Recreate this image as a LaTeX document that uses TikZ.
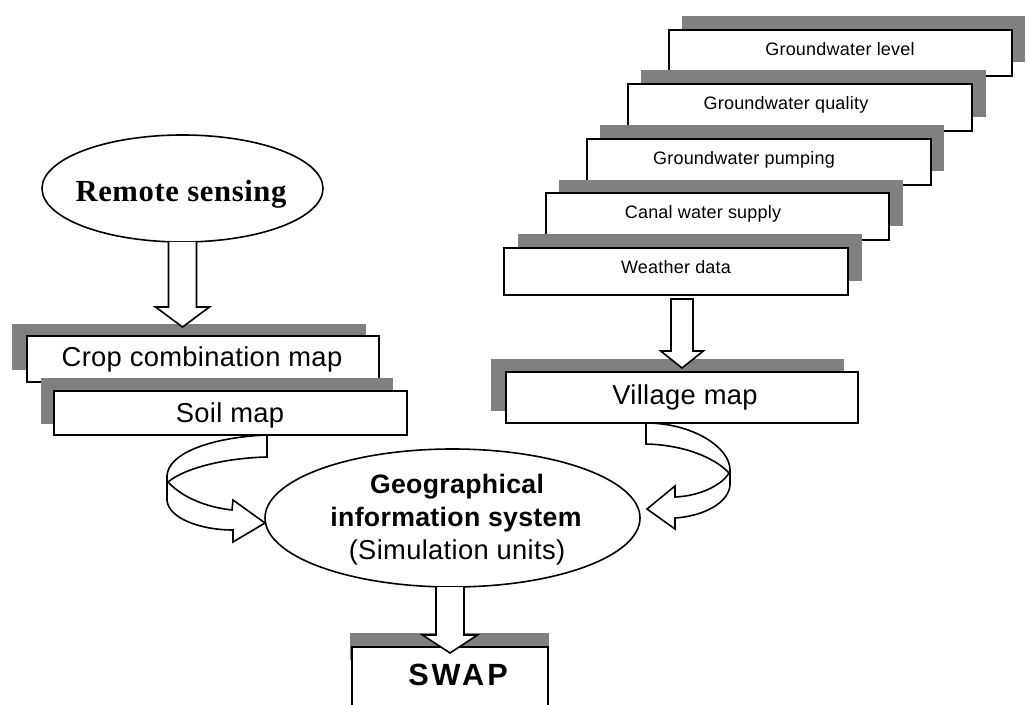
\documentclass[tikz,border=0pt]{standalone}
\usepackage{fontspec}
\setmainfont{Liberation Sans}
\newfontfamily\labelfont[LetterSpace=1.2]{Liberation Sans}
\newfontfamily\swapfont[LetterSpace=10]{Liberation Sans}
\newfontfamily\titlefont[LetterSpace=2]{Liberation Serif}
\usetikzlibrary{shapes.geometric,fit,calc}
\definecolor{shadowgray}{RGB}{128,128,128}

\begin{document}
\begin{tikzpicture}[x=0.75pt,y=-0.75pt,
  shadowbox/.style={rectangle,fill=shadowgray,draw=none,inner sep=0pt,outer sep=0pt},
  panel/.style={rectangle,fill=white,draw=black,line width=1.4pt,inner sep=0pt,outer sep=0pt},
  smalltext/.style={anchor=base,inner sep=0pt,font=\labelfont\fontsize{13.5}{16}\selectfont},
  bigtext/.style={anchor=base,inner sep=0pt,font=\labelfont\fontsize{20.5}{24}\selectfont},
  gistext/.style={anchor=base,inner sep=0pt,font=\labelfont\bfseries\fontsize{20}{24}\selectfont},
  oval/.style={ellipse,draw=black,fill=white,line width=1.2pt,inner sep=0pt,outer sep=0pt},
  blockarrow/.style={fill=white,draw=black,line width=1.2pt,line join=miter}]

% page
\useasboundingbox (0,0) rectangle (1027,705);
\clip (0,0) rectangle (1027,705);
\fill[white] (0,0) rectangle (1027,705);

% left stack: crop combination and soil maps
\node[shadowbox,fit={(12,324) (366,370)}] (cropsh) {};
\node[panel,fit={(27,336) (379,382)}] (crop) {};
\node[bigtext] (croptext) at ($(crop.north west)+(175,31)$) {Crop combination map};
\node[shadowbox,fit={(41,378) (393,424)}] (soilsh) {};
\node[panel,fit={(54,391) (407,435)}] (soil) {};
\node[bigtext] (soiltext) at ($(soil.north west)+(176,31)$) {Soil map};

% right stack: input data layers
\node[shadowbox,fit={(682,16) (1025,62)}] (glsh) {};
\node[panel,fit={(669,30) (1012,76)}] (gl) {};
\node[smalltext] (gltext) at ($(gl.north west)+(171,25.5)$) {Groundwater level};
\node[shadowbox,fit={(641,70) (986,117)}] (gqsh) {};
\node[panel,fit={(628,84) (972,131)}] (gq) {};
\node[smalltext] (gqtext) at ($(gq.north west)+(158,25.5)$) {Groundwater quality};
\node[shadowbox,fit={(600,125) (944,171)}] (gpsh) {};
\node[panel,fit={(587,139) (931,185)}] (gp) {};
\node[smalltext] (gptext) at ($(gp.north west)+(157,25.5)$) {Groundwater pumping};
\node[shadowbox,fit={(559,180) (903,226)}] (cwsh) {};
\node[panel,fit={(546,193) (889,240)}] (cw) {};
\node[smalltext] (cwtext) at ($(cw.north west)+(157,25.5)$) {Canal water supply};
\node[shadowbox,fit={(518,234) (862,281)}] (wdsh) {};
\node[panel,fit={(504,248) (848,295)}] (wd) {};
\node[smalltext] (wdtext) at ($(wd.north west)+(172,25.5)$) {Weather data};

% village map
\node[shadowbox,fit={(491,359) (844,411)}] (vmsh) {};
\node[panel,fit={(506,372) (858,423)}] (vm) {};
\node[bigtext] (vmtext) at ($(vm.north west)+(179,33)$) {Village map};

% SWAP model
\node[shadowbox,fit={(350,633) (549,660)}] (swapsh) {};
\node[panel,fit={(352,647) (548,720)}] (swap) {};
\node[anchor=base,inner sep=0pt,font=\swapfont\bfseries\fontsize{23}{27}\selectfont] (swaptext)
  at ($(swap.north west)+(106,38)$) {SWAP};

% ovals
\node[oval,minimum width=210.75pt,minimum height=80.25pt] (rs) at (182.5,188.5) {};
\node[anchor=base,inner sep=0pt,font=\titlefont\bfseries\fontsize{23}{27}\selectfont] (rstext)
  at (181,201.7) {Remote sensing};
\node[oval,minimum width=281.25pt,minimum height=103.5pt] (gis) at (452.5,518) {};
\node[gistext] (gis1) at (457,493) {Geographical};
\node[gistext] (gis2) at (456,526) {information system};
\node[bigtext] (gis3) at (457,559) {(Simulation units)};

% straight block arrows
\filldraw[blockarrow] let \p1=(rs.south), \p2=(rs.south |- cropsh.north) in
  (\x1-10.5pt,\y1) -- (\x1-10.5pt,\y2+12.75pt) -- (\x1-20.25pt,\y2+12.75pt) -- (\x1,\y2-2.25pt)
  -- (\x1+20.25pt,\y2+12.75pt) -- (\x1+10.5pt,\y2+12.75pt) -- (\x1+10.5pt,\y1);
\filldraw[blockarrow] let \p1=(wd.south), \p2=(vm.north) in
  (\x2-8.25pt,\y1-3pt) -- (\x2-8.25pt,\y2+15.75pt) -- (\x2-16pt,\y2+15.75pt) -- (\x2,\y2+3pt)
  -- (\x2+16pt,\y2+15.75pt) -- (\x2+8.25pt,\y2+15.75pt) -- (\x2+8.25pt,\y1-3pt) -- cycle;
\filldraw[blockarrow] let \p1=(gis.south), \p2=(swap.north) in
  (\x2-10.5pt,\y1) -- (\x2-10.5pt,\y2+9pt) -- (\x2-20.6pt,\y2+9pt) -- (\x2,\y2-4.5pt)
  -- (\x2+20.6pt,\y2+9pt) -- (\x2+10.5pt,\y2+9pt) -- (\x2+10.5pt,\y1);

% curved block arrow: soil map into the GIS
\begin{scope}[shift={(soil.south west)}]
\filldraw[blockarrow] (213,0) .. controls (161,2) and (114,17) .. (113,41) -- (113,65)
  .. controls (114,83) and (146,95) .. (179,95) -- (179,107) -- (211,88) -- (179,65) -- (178,75)
  .. controls (151,72) and (128,62) .. (114,47)
  .. controls (131,33) and (171,23) .. (213,22) -- cycle;
\end{scope}

% curved block arrow: village map into the GIS
\begin{scope}[shift={(vm.south west)}]
\filldraw[blockarrow] (140,0) .. controls (186,0) and (224,24) .. (224,47) -- (224,62)
  .. controls (223,79) and (199,93) .. (169,95) -- (169,106) -- (141,86) -- (169,63) -- (169,74)
  .. controls (194,73) and (216,62) .. (223,50)
  .. controls (209,35) and (179,22) .. (140,21) -- cycle;
\end{scope}
\end{tikzpicture}
\end{document}
